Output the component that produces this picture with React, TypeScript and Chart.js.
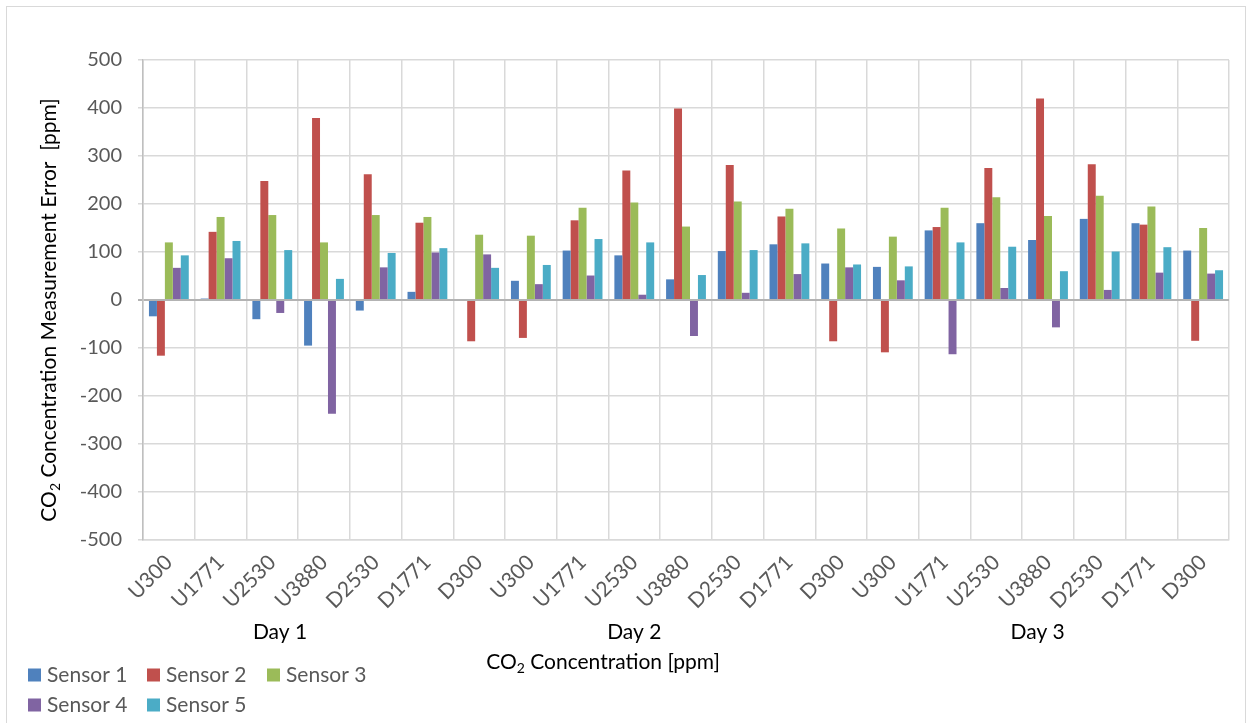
import React, { useEffect, useRef } from "react";
import { Chart, registerables } from "chart.js";

Chart.register(...registerables);

// ---------- data ----------
const categories = [
  "U300", "U1771", "U2530", "U3880", "D2530", "D1771", "D300",
  "U300", "U1771", "U2530", "U3880", "D2530", "D1771", "D300",
  "U300", "U1771", "U2530", "U3880", "D2530", "D1771", "D300",
];
const dayLabels = ["Day 1", "Day 2", "Day 3"];
const dayLabelPositions = [2.15, 9.0, 16.8]; // category index under which the day label sits
const sensorNames = ["Sensor 1", "Sensor 2", "Sensor 3", "Sensor 4", "Sensor 5"];
const sensorColors = ["#4F81BD", "#C0504D", "#9BBB59", "#8064A2", "#4BACC6"];

const sensor1 = [-34, 3, -40, -95, -22, 17, 0, 40, 103, 93, 43, 102, 116, 76, 69, 145, 160, 125, 169, 160, 103];
const sensor2 = [-116, 142, 248, 379, 262, 161, -86, -79, 166, 270, 399, 281, 174, -86, -109, 152, 275, 420, 283, 157, -85];
const sensor3 = [120, 173, 177, 120, 177, 173, 136, 134, 192, 203, 153, 205, 190, 149, 132, 192, 214, 175, 217, 195, 150];
const sensor4 = [67, 87, -27, -237, 68, 99, 95, 33, 51, 11, -75, 15, 54, 68, 41, -113, 25, -57, 21, 57, 55];
const sensor5 = [93, 123, 104, 44, 98, 108, 67, 73, 127, 120, 52, 104, 118, 74, 70, 120, 111, 60, 101, 110, 62];
const sensorValues = [sensor1, sensor2, sensor3, sensor4, sensor5];

const yMin = -500;
const yMax = 500;
const yStep = 100;

const yTitleParts = [
  { t: "CO" },
  { t: "2", sub: true },
  { t: " Concentration Measurement Error  [ppm]" },
];
const xTitleParts = [
  { t: "CO" },
  { t: "2", sub: true },
  { t: " Concentration [ppm]" },
];

const FONT = "Lato, 'Open Sans', sans-serif";

type Part = { t: string; sub?: boolean };

function partsWidth(ctx: CanvasRenderingContext2D, parts: Part[], size: number) {
  let w = 0;
  for (const p of parts) {
    ctx.font = `${p.sub ? Math.round(size * 0.65) : size}px ${FONT}`;
    w += ctx.measureText(p.t).width;
  }
  return w;
}

function drawParts(ctx: CanvasRenderingContext2D, parts: Part[], cx: number, cy: number, size: number) {
  const total = partsWidth(ctx, parts, size);
  let x = cx - total / 2;
  ctx.textAlign = "left";
  ctx.textBaseline = "middle";
  for (const p of parts) {
    const s = p.sub ? Math.round(size * 0.65) : size;
    ctx.font = `${s}px ${FONT}`;
    ctx.fillText(p.t, x, p.sub ? cy + size * 0.3 : cy);
    x += ctx.measureText(p.t).width;
  }
}

const annotations = {
  id: "annotations",
  afterDraw(chart: any) {
    const ctx: CanvasRenderingContext2D = chart.ctx;
    const area = chart.chartArea;
    const catW = (area.right - area.left) / categories.length;
    ctx.save();
    // day labels
    ctx.fillStyle = "#000000";
    ctx.font = `21px ${FONT}`;
    ctx.textAlign = "center";
    ctx.textBaseline = "middle";
    dayLabels.forEach((d, i) => {
      ctx.fillText(d, area.left + (dayLabelPositions[i] + 0.5) * catW, 632);
    });
    // x title
    drawParts(ctx, xTitleParts, area.left + (area.right - area.left) * 0.4236, 662, 21);
    // y title
    ctx.save();
    ctx.translate(49, (area.top + area.bottom) / 2 + 10);
    ctx.rotate(-Math.PI / 2);
    drawParts(ctx, yTitleParts, 0, 0, 21);
    ctx.restore();
    // legend
    const rowY = [675, 705];
    const colX = [28, 147, 267];
    ctx.textBaseline = "middle";
    ctx.textAlign = "left";
    sensorNames.forEach((name, i) => {
      const row = Math.floor(i / 3);
      const col = i % 3;
      const x = colX[col];
      const y = rowY[row];
      ctx.fillStyle = sensorColors[i];
      ctx.fillRect(x, y - 6.5, 13, 13);
      ctx.fillStyle = "#595959";
      ctx.font = `21px ${FONT}`;
      ctx.fillText(name, x + 19, y);
    });
    ctx.restore();
  },
};

export default function App() {
  const canvasRef = useRef<HTMLCanvasElement | null>(null);

  useEffect(() => {
    if (!canvasRef.current) return;
    const chart = new Chart(canvasRef.current, {
      type: "bar",
      data: {
        labels: categories,
        datasets: sensorNames.map((name, i) => ({
          label: name,
          data: sensorValues[i],
          backgroundColor: sensorColors[i],
          borderWidth: 0,
          categoryPercentage: 0.77,
          barPercentage: 1.0,
        })),
      },
      options: {
        responsive: false,
        maintainAspectRatio: false,
        animation: false,
        layout: { padding: { left: 0, top: 60, right: 23, bottom: 0 } },
        plugins: {
          legend: { display: false },
          tooltip: { enabled: false },
          title: { display: false },
        },
        scales: {
          x: {
            offset: true,
            grid: {
              offset: true,
              color: "#d9d9d9",
              lineWidth: 1.5,
              drawTicks: false,
            },
            border: { display: true, color: "#d9d9d9", width: 1.5 },
            ticks: {
              autoSkip: false,
              maxRotation: 45,
              minRotation: 45,
              padding: 10,
              color: "#595959",
              font: { family: FONT, size: 21 },
            },
            afterFit: (s: any) => {
              s.height = 183;
            },
          },
          y: {
            min: yMin,
            max: yMax,
            ticks: {
              stepSize: yStep,
              padding: 16,
              color: "#595959",
              font: { family: FONT, size: 20 },
            },
            grid: {
              color: (c: any) => (c.tick && c.tick.value === 0 ? "#b3b3b3" : "#d9d9d9"),
              lineWidth: (c: any) => (c.tick && c.tick.value === 0 ? 2 : 1.5),
              tickLength: 5,
            },
            border: { display: true, color: "#bfbfbf", width: 1.5 },
            afterFit: (s: any) => {
              s.width = 143;
            },
          },
        },
      },
      plugins: [annotations],
    });
    return () => chart.destroy();
  }, []);

  return (
    <div style={{ position: "fixed", left: 0, top: 0, width: 1252, height: 723, background: "#ffffff", overflow: "hidden" }}>
      <div
        style={{
          position: "absolute",
          left: 6,
          top: 6,
          width: 1240,
          height: 760,
          border: "1px solid #d9d9d9",
          boxSizing: "border-box",
        }}
      />
      <canvas ref={canvasRef} width={1252} height={723} style={{ position: "absolute", left: 0, top: 0 }} />
    </div>
  );
}
